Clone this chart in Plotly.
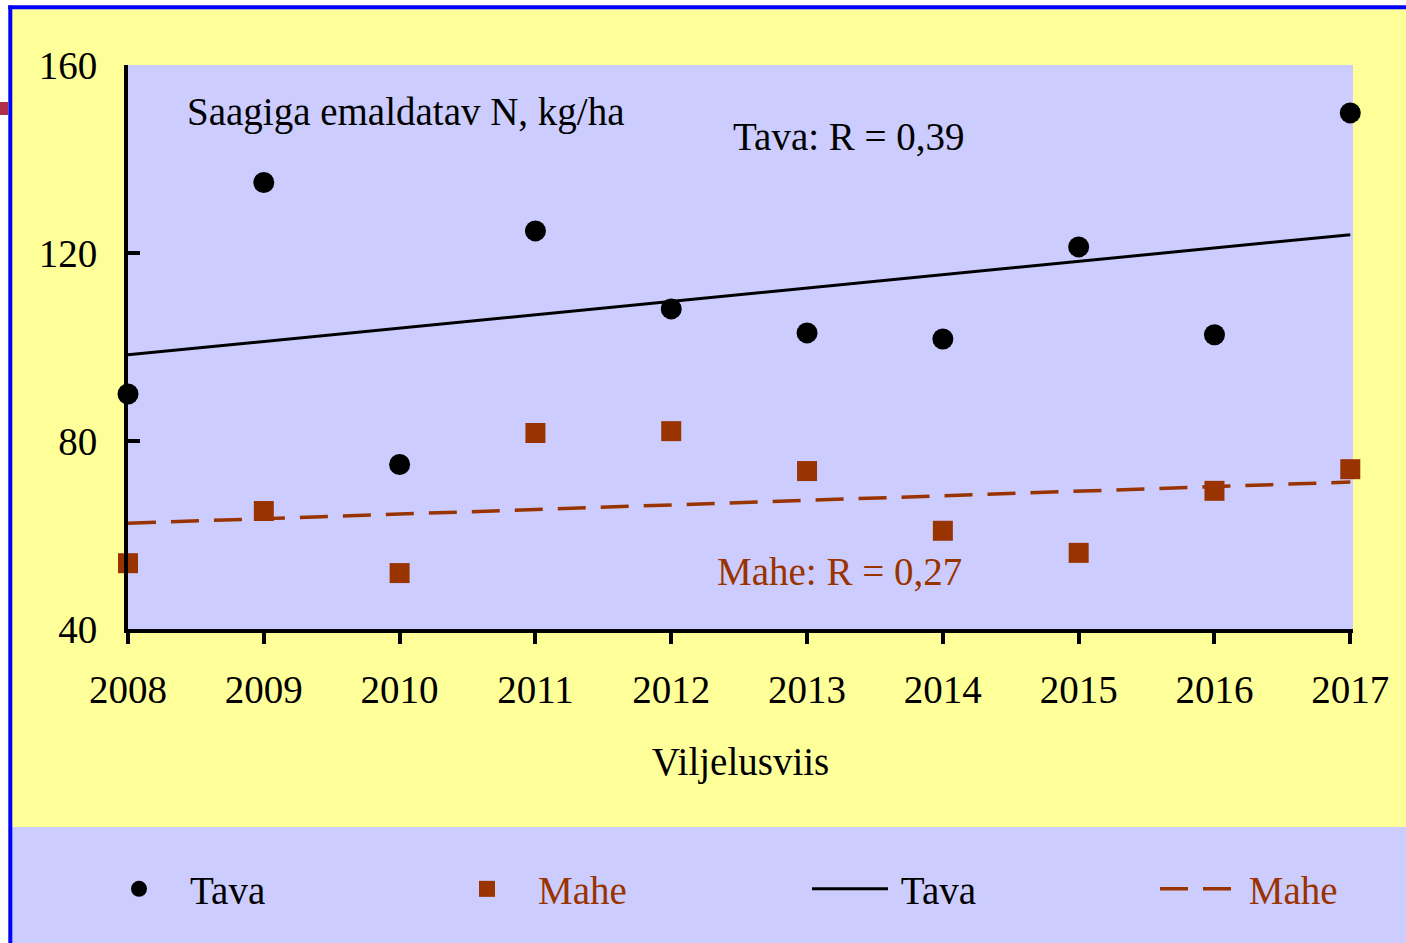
import numpy as np
import plotly.graph_objects as go

# ---- data ----
years = [2008, 2009, 2010, 2011, 2012, 2013, 2014, 2015, 2016, 2017]
tava = [90, 135, 75, 124.7, 108.1, 103, 101.7, 121.3, 102.6, 149.8]
mahe = [54, 65.1, 51.9, 81.7, 82.1, 73.6, 60.9, 56.2, 69.4, 74]
y_ticks = [40, 80, 120, 160]

# linear trend lines computed from the data
x_arr = np.array(years, dtype=float)
tava_fit = np.polyval(np.polyfit(x_arr, tava, 1), x_arr)
mahe_fit = np.polyval(np.polyfit(x_arr, mahe, 1), x_arr)

# ---- layout geometry ----
W, H = 1406, 943
L, R, T, B = 128, 53, 65, 314
PW, PH = W - L - R, H - T - B

def px(x):
    return (x - L) / PW

def py(y):
    return (H - B - y) / PH

FONT = "Liberation Serif, Times New Roman, serif"
FS = 39
YELLOW = "#FFFF99"
LAV = "#CCCCFF"
BROWN = "#993300"

fig = go.Figure()

fig.add_trace(go.Scatter(x=years, y=tava_fit, mode="lines", name="\u2009Tava",
                         line=dict(color="black", width=3),
                         legend="legend3"))
fig.add_trace(go.Scatter(x=years, y=mahe_fit, mode="lines",
                         name="<span style='color:#993300'>\u2009Mahe</span>",
                         line=dict(color=BROWN, width=3.5, dash="28px,15px"),
                         legend="legend4"))
fig.add_trace(go.Scatter(x=years, y=tava, mode="markers", name="Tava",
                         marker=dict(symbol="circle", size=21, color="black"),
                         cliponaxis=False, legend="legend"))
fig.add_trace(go.Scatter(x=years, y=mahe, mode="markers",
                         name="<span style='color:#993300'>Mahe</span>",
                         marker=dict(symbol="square", size=20, color=BROWN),
                         cliponaxis=False, legend="legend2"))

shapes = [
    # white margins outside the blue frame
    dict(type="rect", xref="paper", yref="paper", x0=px(-5), x1=px(8.5),
         y0=py(960), y1=py(-10), fillcolor="white", line=dict(width=0), layer="below"),
    dict(type="rect", xref="paper", yref="paper", x0=px(-5), x1=px(1420),
         y0=py(5.5), y1=py(-10), fillcolor="white", line=dict(width=0), layer="below"),
    # legend band
    dict(type="rect", xref="paper", yref="paper", x0=px(12), x1=px(1420),
         y0=py(960), y1=py(827), fillcolor=LAV, line=dict(width=0), layer="below"),
    # blue frame
    dict(type="line", xref="paper", yref="paper", x0=px(10.3), x1=px(10.3),
         y0=py(5.5), y1=py(960), line=dict(color="#0000FF", width=4)),
    dict(type="line", xref="paper", yref="paper", x0=px(8.3), x1=px(1420),
         y0=py(7.3), y1=py(7.3), line=dict(color="#0000FF", width=4)),
    # small red fragment at left edge
    dict(type="rect", xref="paper", yref="paper", x0=px(-5), x1=px(8),
         y0=py(115), y1=py(102), fillcolor="#B0304A", line=dict(width=0)),
]

annotations = [
    dict(x=2008.42, y=150, xref="x", yref="y", text="Saagiga emaldatav N, kg/ha",
         showarrow=False, xanchor="left", yanchor="middle",
         font=dict(family=FONT, size=FS, color="black")),
    dict(x=2012.44, y=144.7, xref="x", yref="y", text="Tava: R = 0,39",
         showarrow=False, xanchor="left", yanchor="middle",
         font=dict(family=FONT, size=FS, color="black")),
    dict(x=2012.32, y=52.3, xref="x", yref="y", text="Mahe: R = 0,27",
         showarrow=False, xanchor="left", yanchor="middle",
         font=dict(family=FONT, size=FS, color=BROWN)),
]

def leg(x0, itemwidth):
    return dict(x=px(x0), xanchor="left", y=py(889), yanchor="middle",
                orientation="h", bgcolor="rgba(0,0,0,0)", borderwidth=0,
                itemwidth=itemwidth,
                font=dict(family=FONT, size=FS, color="black"))

fig.update_layout(
    width=W, height=H,
    margin=dict(l=L, r=R, t=T, b=B, pad=0),
    paper_bgcolor=YELLOW,
    plot_bgcolor=LAV,
    font=dict(family=FONT, size=FS, color="black"),
    shapes=shapes,
    annotations=annotations,
    legend=leg(88, 92),
    legend2=leg(436, 92),
    legend3=leg(807, 76),
    legend4=leg(1155, 76),
    xaxis=dict(range=[2008, 2017.02], tickmode="array", tickvals=years,
               ticktext=[str(y) for y in years],
               showgrid=False, zeroline=False,
               showline=True, linecolor="black", linewidth=4,
               ticks="outside", ticklen=11, tickwidth=4, tickcolor="black",
               ticklabelstandoff=12,
               tickfont=dict(family=FONT, size=FS, color="black"),
               title=dict(text="Viljelusviis", standoff=39,
                          font=dict(family=FONT, size=FS, color="black"))),
    yaxis=dict(range=[40, 160], tickmode="array", tickvals=y_ticks,
               showgrid=False, zeroline=False,
               showline=True, linecolor="black", linewidth=4,
               ticks="inside", ticklen=12, tickwidth=4, tickcolor="black",
               ticklabelstandoff=19,
               tickfont=dict(family=FONT, size=FS, color="black")),
    showlegend=True,
)

fig.write_html("out.html", config={"displayModeBar": False},
               post_script="document.body.style.margin='0';")
